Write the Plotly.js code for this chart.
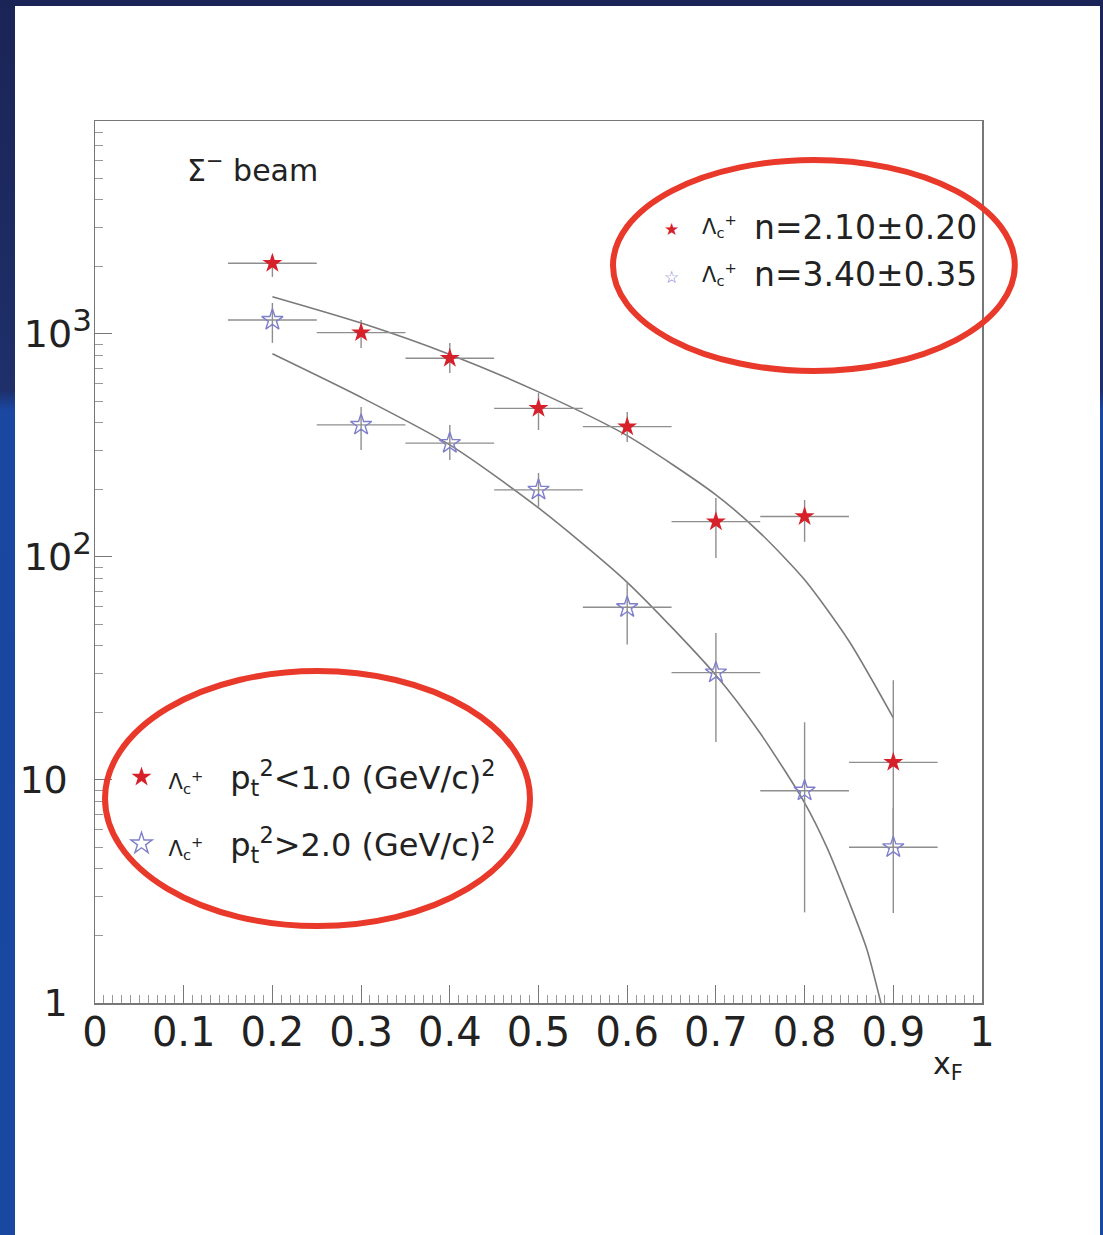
<!DOCTYPE html>
<html>
<head>
<meta charset="utf-8">
<script src="https://cdn.plot.ly/plotly-3.0.1.min.js"></script>
<style>
  html, body { margin: 0; padding: 0; }
  body {
    width: 1103px; height: 1235px; overflow: hidden; position: relative;
    background: linear-gradient(to bottom, #1b2456 0px, #1e2f6a 390px, #1a47a0 410px, #1848a0 1235px);
  }
  #chart { position: absolute; left: 15px; top: 6px; width: 1085px; height: 1229px; background: #ffffff; }
</style>
</head>
<body>
<div id="chart"></div>
<script>
// ---- data ----
const xF = [0.2, 0.3, 0.4, 0.5, 0.6, 0.7, 0.8, 0.9];
const xHalfBin = [0.05, 0.05, 0.05, 0.05, 0.05, 0.05, 0.05, 0.05];

// Lambda_c+ with pt^2 < 1.0 (GeV/c)^2  (filled red stars)
const lowPt          = [2075, 1014, 778, 464, 384, 144, 152, 12.0];
const lowPtErrPlus   = [186, 141, 134, 80, 63, 40, 28, 16];
const lowPtErrMinus  = [273, 149, 110, 93, 56, 45, 35, 7];

// Lambda_c+ with pt^2 > 2.0 (GeV/c)^2  (open blue stars)
const highPt         = [1155, 391, 324, 200, 59.5, 30.3, 8.95, 4.99];
const highPtErrPlus  = [222, 80, 67, 38, 18, 15.3, 9.2, 2.5];
const highPtErrMinus = [243, 89, 52, 32, 19, 15.5, 6.4, 2.46];

// fitted (1-xF)^n curves
const fitLowX  = [0.2, 0.3, 0.4, 0.5, 0.6, 0.7, 0.75, 0.8, 0.85, 0.9];
const fitLowY  = [1470, 1120, 810, 550, 350, 190, 128, 79, 42, 19];
const fitHighX = [0.2, 0.3, 0.4, 0.5, 0.6, 0.7, 0.75, 0.8, 0.825, 0.85, 0.87, 0.886];
const fitHighY = [815, 520, 318, 166, 77, 29.5, 16.2, 7.9, 5.0, 2.85, 1.75, 1.0];

// tick labels
const yTickVals = [1, 10, 100, 1000];
const yTickText = ['1\u00a0\u00a0', '10\u00a0\u00a0',
  '10<sup><span style="font-size:31px">2</span></sup>',
  '10<sup><span style="font-size:31px">3</span></sup>'];

const legendTexts = ['n=2.10\u00b10.20', 'n=3.40\u00b10.35'];
const lowName  = '<span style="font-size:21px">\u039b<sub>c</sub><sup>+</sup>\u00a0</span>\u00a0\u00a0p<sub>t</sub><sup>2</sup>&lt;1.0 (GeV/c)<sup>2</sup>';
const highName = '<span style="font-size:21px">\u039b<sub>c</sub><sup>+</sup>\u00a0</span>\u00a0\u00a0p<sub>t</sub><sup>2</sup>&gt;2.0 (GeV/c)<sup>2</sup>';

// ---- styling ----
const FONT = 'DejaVu Sans';
const TXT = '#222222';
const RED = '#d6202a';
const BLUE = '#7f7fcc';
const ERR = '#8e8e8e';
const CURVE = '#7a7a7a';
const RING = '#e8392b';

// minor log ticks 2..9 in each decade
const yMinor = [];
for (let d = 1; d <= 1000; d *= 10) for (let k = 2; k <= 9; k++) yMinor.push(k * d);

const traces = [
  { x: fitLowX, y: fitLowY, mode: 'lines', line: { color: CURVE, width: 1.6, shape: 'spline', smoothing: 0.7 },
    showlegend: false, hoverinfo: 'skip' },
  { x: fitHighX, y: fitHighY, mode: 'lines', line: { color: CURVE, width: 1.6, shape: 'spline', smoothing: 0.7 },
    showlegend: false, hoverinfo: 'skip' },
  { x: xF, y: lowPt, mode: 'markers', name: lowName, legendgroup: 'low',
    marker: { symbol: 'star', size: 15, color: RED, line: { width: 0 } },
    error_x: { type: 'data', array: xHalfBin, color: ERR, thickness: 1.4, width: 0 },
    error_y: { type: 'data', array: lowPtErrPlus, arrayminus: lowPtErrMinus, symmetric: false, color: ERR, thickness: 1.4, width: 0 } },
  { x: xF, y: highPt, mode: 'markers', name: highName, legendgroup: 'high',
    marker: { symbol: 'star-open', size: 16, color: BLUE, line: { width: 1.4, color: BLUE } },
    error_x: { type: 'data', array: xHalfBin, color: ERR, thickness: 1.4, width: 0 },
    error_y: { type: 'data', array: highPtErrPlus, arrayminus: highPtErrMinus, symmetric: false, color: ERR, thickness: 1.4, width: 0 } }
];

const layout = {
  width: 1085, height: 1229,
  margin: { l: 80, r: 118, t: 115, b: 232 },
  paper_bgcolor: '#ffffff', plot_bgcolor: '#ffffff',
  showlegend: true,
  legend: {
    x: 0.022, y: 0.2873, xanchor: 'left', yanchor: 'top',
    bgcolor: 'rgba(0,0,0,0)', borderwidth: 0,
    font: { family: FONT, size: 32, color: TXT },
    tracegroupgap: 22, itemwidth: 44
  },
  xaxis: {
    range: [0, 1], dtick: 0.1, tick0: 0,
    ticks: 'inside', ticklen: 18, tickwidth: 1, tickcolor: '#777',
    minor: { dtick: 0.01, ticks: 'inside', ticklen: 8, tickwidth: 1, tickcolor: '#999' },
    showline: true, linecolor: '#777', linewidth: 1.5, mirror: true,
    showgrid: false, zeroline: false,
    tickfont: { family: FONT, size: 40, color: TXT },
    ticklabelstandoff: -7
  },
  yaxis: {
    type: 'log', range: [0, 3.955],
    tickvals: yTickVals, ticktext: yTickText,
    ticks: 'inside', ticklen: 17, tickwidth: 1, tickcolor: '#777',
    minor: { tickvals: yMinor, ticks: 'inside', ticklen: 8, tickwidth: 1, tickcolor: '#999' },
    showline: true, linecolor: '#777', linewidth: 1.5, mirror: true,
    showgrid: false, zeroline: false,
    tickfont: { family: FONT, size: 38, color: TXT },
    ticklabelstandoff: -6
  },
  annotations: [
    { xref: 'paper', yref: 'paper', x: 0.1015, y: 0.9467, xanchor: 'left', yanchor: 'middle', showarrow: false,
      text: '\u03a3<sup>\u2212</sup> beam', font: { family: FONT, size: 30, color: TXT } },
    { xref: 'paper', yref: 'paper', x: 0.962, y: -0.0703, xanchor: 'center', yanchor: 'middle', showarrow: false,
      text: 'x<sub>F</sub>', font: { family: FONT, size: 30, color: TXT } },
    // top-right fit legend
    { xref: 'paper', yref: 'paper', x: 0.6505, y: 0.8775, xanchor: 'center', yanchor: 'middle', showarrow: false,
      text: '\u2605', font: { family: FONT, size: 17, color: RED } },
    { xref: 'paper', yref: 'paper', x: 0.6505, y: 0.8235, xanchor: 'center', yanchor: 'middle', showarrow: false,
      text: '\u2606', font: { family: FONT, size: 17, color: BLUE } },
    { xref: 'paper', yref: 'paper', x: 0.682, y: 0.8810, xanchor: 'left', yanchor: 'middle', showarrow: false,
      text: '\u039b<sub>c</sub><sup>+</sup>', font: { family: FONT, size: 21, color: TXT } },
    { xref: 'paper', yref: 'paper', x: 0.682, y: 0.8265, xanchor: 'left', yanchor: 'middle', showarrow: false,
      text: '\u039b<sub>c</sub><sup>+</sup>', font: { family: FONT, size: 21, color: TXT } },
    { xref: 'paper', yref: 'paper', x: 0.7407, y: 0.8798, xanchor: 'left', yanchor: 'middle', showarrow: false,
      text: legendTexts[0], font: { family: FONT, size: 33, color: TXT } },
    { xref: 'paper', yref: 'paper', x: 0.7407, y: 0.8254, xanchor: 'left', yanchor: 'middle', showarrow: false,
      text: legendTexts[1], font: { family: FONT, size: 33, color: TXT } }
  ],
  shapes: [
    { type: 'circle', xref: 'paper', yref: 'paper', x0: 0.584, x1: 1.037, y0: 0.7166, y1: 0.9558,
      line: { color: RING, width: 6 }, layer: 'above' },
    { type: 'circle', xref: 'paper', yref: 'paper', x0: 0.0113, x1: 0.4904, y0: 0.0873, y1: 0.3764,
      line: { color: RING, width: 6 }, layer: 'above' }
  ]
};

Plotly.newPlot('chart', traces, layout, { staticPlot: true, displayModeBar: false });
</script>
</body>
</html>
